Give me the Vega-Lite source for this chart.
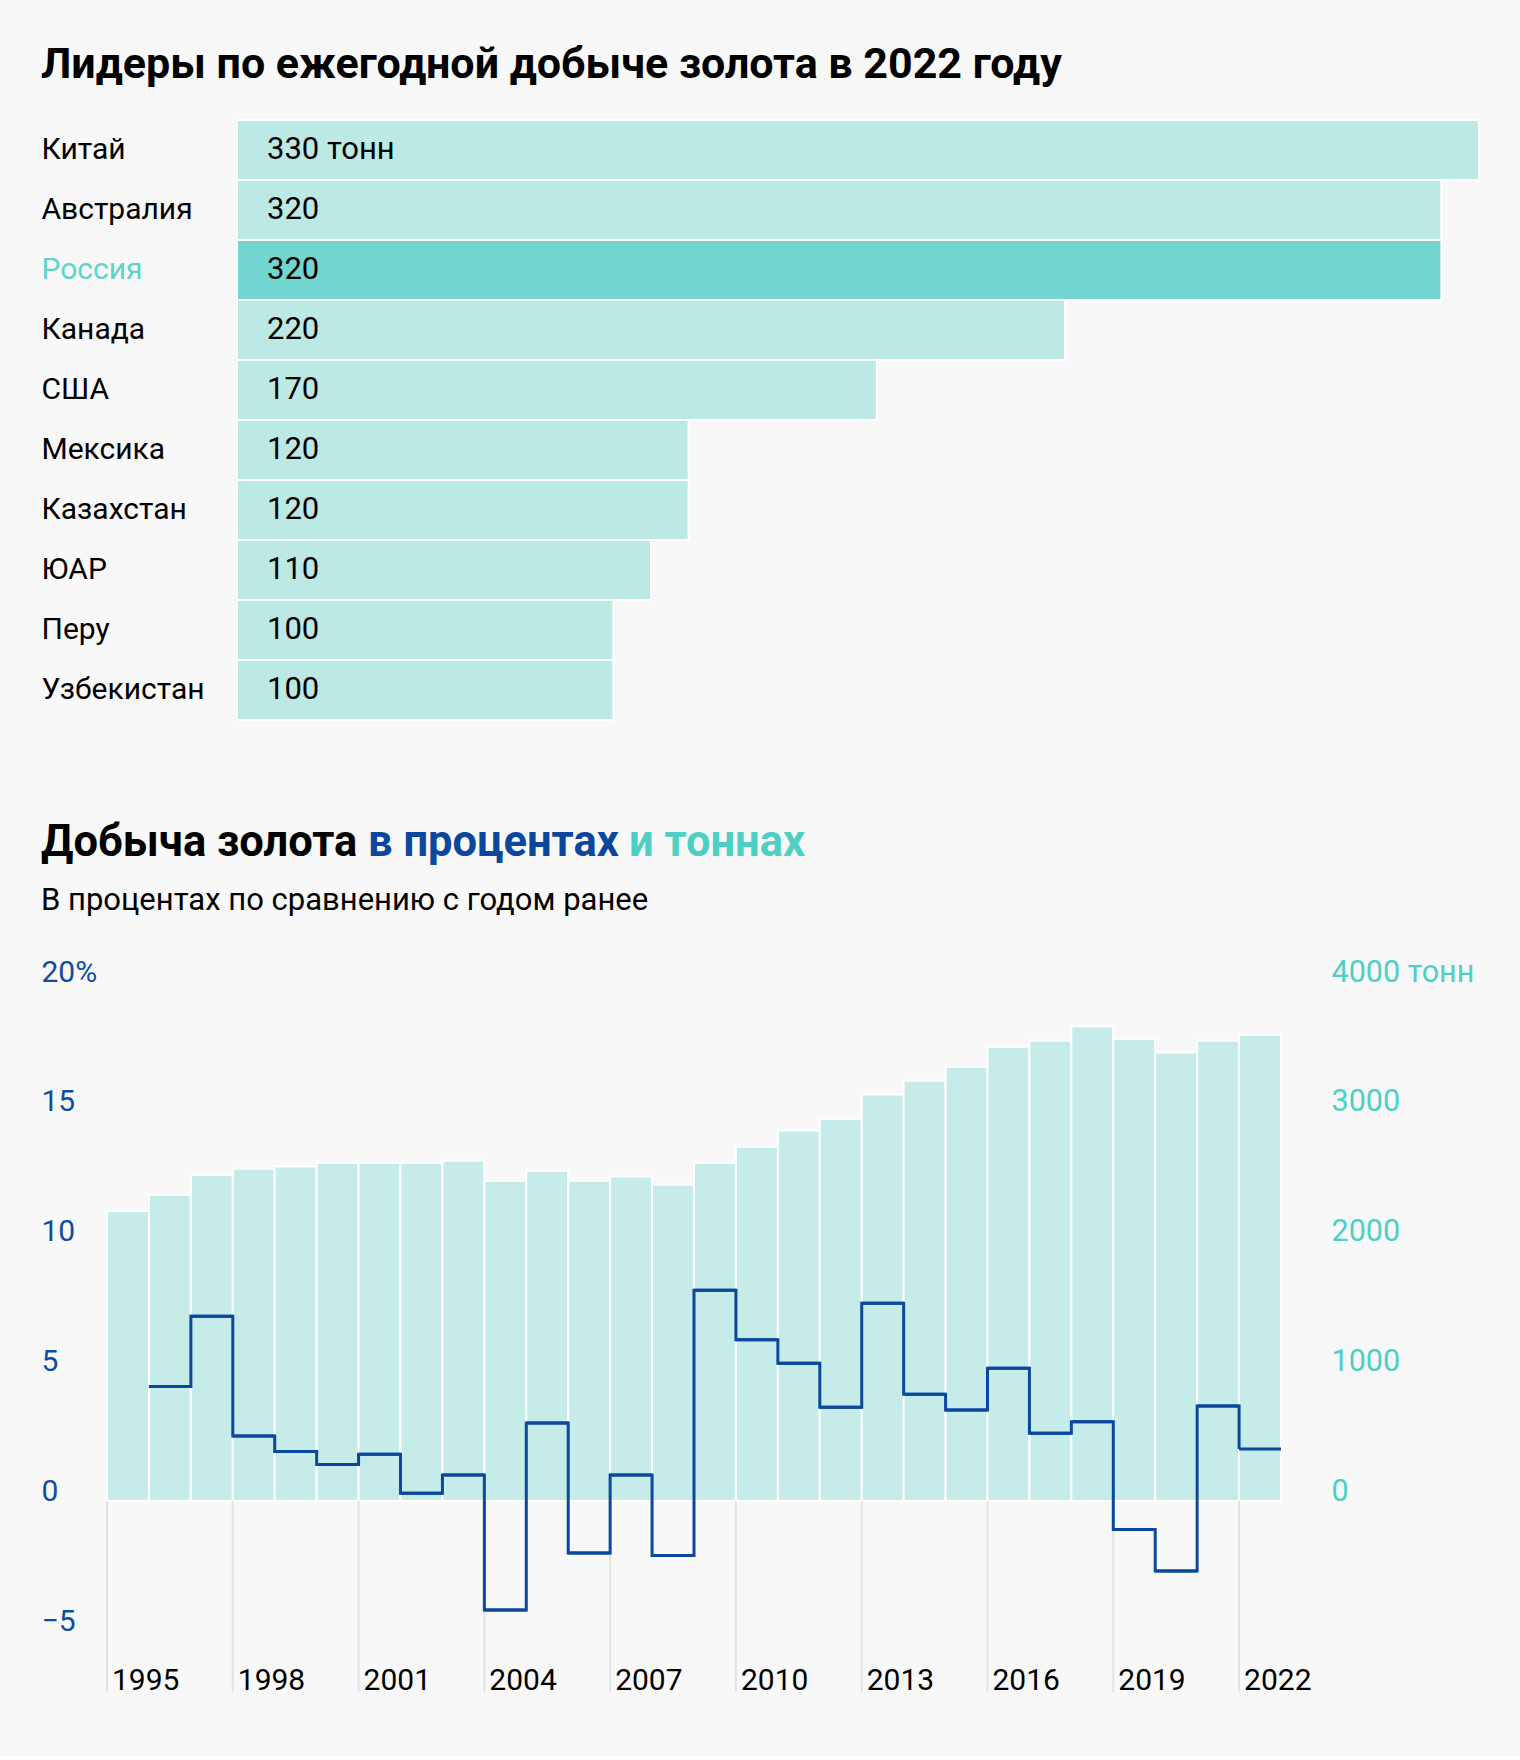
{
  "$schema": "https://vega.github.io/schema/vega-lite/v6.json",
  "background": "#f8f8f8",
  "padding": {"left": 41, "top": 44, "right": 40, "bottom": 60},
  "config": {
    "view": {"stroke": null},
    "font": "Roboto",
    "axis": {"domain": false, "ticks": false, "tickSize": 0, "grid": false, "labelFont": "Roboto", "labelFontSize": 30},
    "title": {"font": "Roboto"}
  },
  "spacing": 100,
  "vconcat": [
    {
      "width": 1372,
      "height": 600,
      "title": {"text": "Лидеры по ежегодной добыче золота в 2022 году", "anchor": "start", "frame": "bounds", "fontSize": 43, "fontWeight": "bold", "color": "#000000", "offset": 32},
      "data": {"values": [
        {"country": "Китай", "tons": 330, "label": "330 тонн"},
        {"country": "Австралия", "tons": 320, "label": "320"},
        {"country": "Россия", "tons": 320, "label": "320"},
        {"country": "Канада", "tons": 220, "label": "220"},
        {"country": "США", "tons": 170, "label": "170"},
        {"country": "Мексика", "tons": 120, "label": "120"},
        {"country": "Казахстан", "tons": 120, "label": "120"},
        {"country": "ЮАР", "tons": 110, "label": "110"},
        {"country": "Перу", "tons": 100, "label": "100"},
        {"country": "Узбекистан", "tons": 100, "label": "100"}
      ]},
      "encoding": {
        "y": {"field": "country", "type": "nominal", "sort": null, "title": null,
              "scale": {"paddingInner": 0, "paddingOuter": 0},
              "axis": {"labelAlign": "left", "labelPadding": 66, "labelBaseline": "middle",
                       "labelColor": {"condition": {"test": "datum.value === 'Россия'", "value": "#5fd3c9"}, "value": "#000000"}}}
      },
      "layer": [
        {
          "mark": {"type": "bar", "stroke": "#ffffff", "strokeWidth": 2},
          "encoding": {
            "x": {"field": "tons", "type": "quantitative", "scale": {"domain": [-34.54, 330], "nice": false}, "axis": null},
            "color": {"condition": {"test": "datum.country === 'Россия'", "value": "#72d5d0"}, "value": "#bde9e5"}
          }
        },
        {
          "mark": {"type": "text", "align": "left", "baseline": "middle", "dx": 30, "fontSize": 31, "color": "#000000", "font": "Roboto"},
          "encoding": {
            "x": {"datum": 0, "type": "quantitative"},
            "text": {"field": "label"}
          }
        }
      ]
    },
    {
      "spacing": 8,
      "vconcat": [
        {
          "spacing": 10,
          "hconcat": [
            {"width": 1, "height": 1, "data": {"values": [{"t": ""}]}, "mark": {"type": "text"}, "encoding": {"text": {"field": "t"}},
             "title": {"text": "Добыча золота", "anchor": "start", "frame": "group", "dx": -66, "fontSize": 43.5, "fontWeight": "bold", "color": "#000000", "offset": 0}},
            {"width": 1, "height": 1, "data": {"values": [{"t": ""}]}, "mark": {"type": "text"}, "encoding": {"text": {"field": "t"}},
             "title": {"text": "в процентах", "anchor": "start", "frame": "group", "dx": -66, "fontSize": 43.5, "fontWeight": "bold", "color": "#0b479c", "offset": 0}},
            {"width": 1, "height": 1, "data": {"values": [{"t": ""}]}, "mark": {"type": "text"}, "encoding": {"text": {"field": "t"}},
             "title": {"text": "и тоннах", "anchor": "start", "frame": "group", "dx": -66, "fontSize": 43.5, "fontWeight": "bold", "color": "#4ecfc4", "offset": 0}}
          ]
        },
        {
          "width": 1174,
          "height": 711,
          "title": {"text": "В процентах по сравнению с годом ранее", "anchor": "start", "frame": "bounds", "fontSize": 31, "fontWeight": "normal", "color": "#000000", "offset": 40},
          "data": {"values": [
            {"year": 1995, "tons": 2231},
            {"year": 1996, "tons": 2356, "pct": 4.4},
            {"year": 1997, "tons": 2510, "pct": 7.1},
            {"year": 1998, "tons": 2556, "pct": 2.5},
            {"year": 1999, "tons": 2572, "pct": 1.9},
            {"year": 2000, "tons": 2602, "pct": 1.4},
            {"year": 2001, "tons": 2602, "pct": 1.8},
            {"year": 2002, "tons": 2602, "pct": 0.3},
            {"year": 2003, "tons": 2618, "pct": 1.0},
            {"year": 2004, "tons": 2464, "pct": -4.2},
            {"year": 2005, "tons": 2541, "pct": 3.0},
            {"year": 2006, "tons": 2464, "pct": -2.0},
            {"year": 2007, "tons": 2495, "pct": 1.0},
            {"year": 2008, "tons": 2433, "pct": -2.1},
            {"year": 2009, "tons": 2602, "pct": 8.1},
            {"year": 2010, "tons": 2725, "pct": 6.2},
            {"year": 2011, "tons": 2849, "pct": 5.3},
            {"year": 2012, "tons": 2941, "pct": 3.6},
            {"year": 2013, "tons": 3126, "pct": 7.6},
            {"year": 2014, "tons": 3233, "pct": 4.1},
            {"year": 2015, "tons": 3341, "pct": 3.5},
            {"year": 2016, "tons": 3495, "pct": 5.1},
            {"year": 2017, "tons": 3541, "pct": 2.6},
            {"year": 2018, "tons": 3649, "pct": 3.05},
            {"year": 2019, "tons": 3556, "pct": -1.1},
            {"year": 2020, "tons": 3449, "pct": -2.7},
            {"year": 2021, "tons": 3541, "pct": 3.65},
            {"year": 2022, "tons": 3587, "pct": 2.0}
          ]},
          "resolve": {"scale": {"y": "independent"}},
          "layer": [
            {
              "mark": {"type": "bar", "color": "#c5ece8", "stroke": "#ffffff", "strokeWidth": 2},
              "encoding": {
                "x": {"field": "year", "type": "ordinal", "title": null,
                      "scale": {"type": "band", "paddingInner": 0, "paddingOuter": 0}, "axis": null},
                "y": {"field": "tons", "type": "quantitative", "title": null,
                      "scale": {"domain": [-1470, 4000], "nice": false},
                      "axis": {"orient": "right", "values": [0, 1000, 2000, 3000, 4000], "labelAlign": "left", "labelPadding": 50, "labelBaseline": "alphabetic", "labelColor": "#4ecfc4", "labelFontSize": 30.5,
                               "labelExpr": "datum.value == 4000 ? '4000 тонн' : datum.value == 0 ? '\u2007\u2007\u20070' : '' + datum.value"}}
              }
            },
            {
              "transform": [{"filter": "(datum.year - 1995) % 3 == 0"}],
              "mark": {"type": "rule", "color": "#e2e2e2", "strokeWidth": 2},
              "encoding": {
                "x": {"field": "year", "type": "ordinal", "bandPosition": 0, "scale": {"type": "band", "paddingInner": 0, "paddingOuter": 0}, "axis": null},
                "y": {"datum": 0, "type": "quantitative", "scale": {"domain": [-7.35, 20], "nice": false}, "axis": null},
                "y2": {"datum": -7.35}
              }
            },
            {
              "transform": [{"filter": "(datum.year - 1995) % 3 == 0"}],
              "mark": {"type": "text", "align": "left", "baseline": "alphabetic", "dx": 5, "dy": -2, "fontSize": 30, "color": "#000000", "font": "Roboto"},
              "encoding": {
                "x": {"field": "year", "type": "ordinal", "bandPosition": 0, "scale": {"type": "band", "paddingInner": 0, "paddingOuter": 0}, "axis": null},
                "y": {"datum": -7.35, "type": "quantitative", "scale": {"domain": [-7.35, 20], "nice": false}, "axis": null},
                "text": {"field": "year", "type": "ordinal"}
              }
            },
            {
              "mark": {"type": "line", "interpolate": "step-after", "color": "#0b479c", "strokeWidth": 3},
              "encoding": {
                "x": {"field": "year", "type": "ordinal", "bandPosition": 0, "scale": {"type": "band", "paddingInner": 0, "paddingOuter": 0}, "axis": null},
                "y": {"field": "pct", "type": "quantitative", "title": null, "scale": {"domain": [-7.35, 20], "nice": false},
                      "axis": {"orient": "left", "values": [-5, 0, 5, 10, 15, 20], "labelAlign": "left", "labelPadding": 66, "labelBaseline": "alphabetic", "labelColor": "#0d4ea1", "labelFontSize": 30,
                               "labelExpr": "datum.value == 20 ? '20%' : datum.value < 0 ? '\u2212' + (-datum.value) : datum.value < 10 ? '\u2007' + datum.value : '' + datum.value"}}
              }
            },
            {
              "mark": {"type": "rule", "color": "#0b479c", "strokeWidth": 3},
              "encoding": {
                "x": {"field": "year", "type": "ordinal", "bandPosition": 0, "scale": {"type": "band", "paddingInner": 0, "paddingOuter": 0}, "axis": null},
                "x2": {"field": "year", "bandPosition": 1},
                "y": {"field": "pct", "type": "quantitative", "scale": {"domain": [-7.35, 20], "nice": false}, "axis": null}
              }
            }
          ]
        }
      ]
    }
  ]
}
